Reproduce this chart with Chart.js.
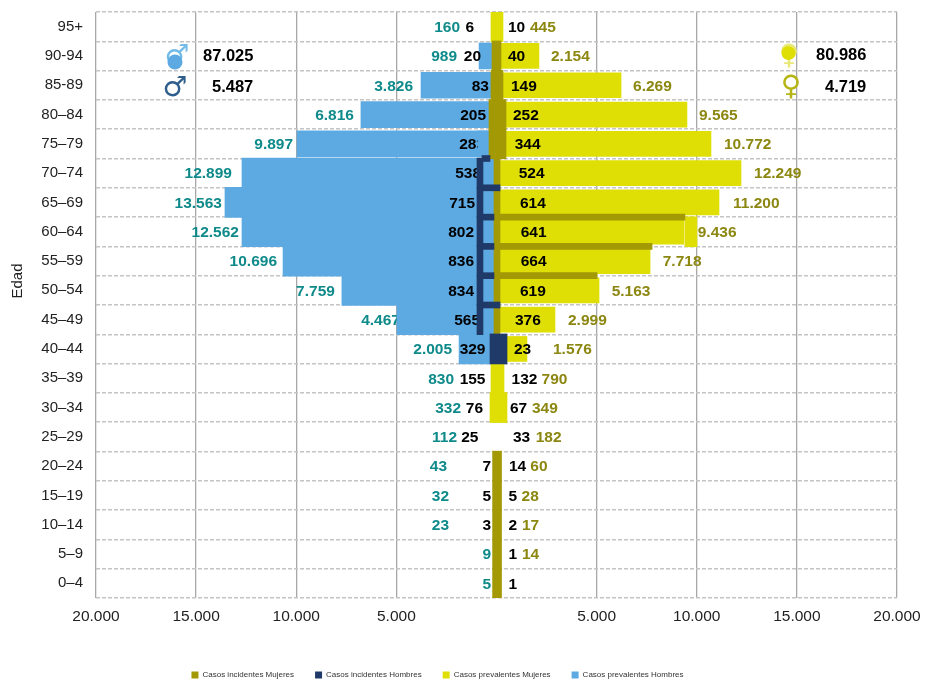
<!DOCTYPE html>
<html>
<head>
<meta charset="utf-8">
<title>Casos por edad</title>
<style>
  body { margin: 0; background: #fff; }
  canvas { display: block; }
</style>
</head>
<body>
<canvas id="myChart" width="925" height="679"></canvas>
<script src="https://cdn.jsdelivr.net/npm/chart.js"></script>
<script>
const ageGroups = ['95+','90-94','85-89','80–84','75–79','70–74','65–69','60–64','55–59','50–54','45–49','40–44','35–39','30–34','25–29','20–24','15–19','10–14','5–9','0–4']
const boundaries = ageGroups.concat(['end'])

// bar lengths (the picture does not always follow its own labels)
const prevMen = [null,870,3770,6770,9960,12710,13560,12710,10660,7720,4970,1870,null,null,null,null,null,null,null,null]
const prevWomen = [null,2120,6220,9510,10710,12210,11110,9360,7670,5120,2920,1520,null,null,null,null,null,null,null,null]
const incWomenFrom = [null,-225,-275,-375,-375,-125,-125,-125,-125,-125,-125,null,null,null,null,-195,-195,-195,-195,-195]
const incWomenTo = [null,225,325,475,475,175,175,175,175,175,175,null,null,null,null,250,250,250,250,250]
const incMenFrom = [null,null,null,null,null,-975,-975,-975,-975,-975,-975,-325,null,null,null,null,null,null,null,null]
const incMenTo = [null,null,null,null,null,-675,-675,-675,-675,-675,-675,525,null,null,null,null,null,null,null,null]

// small yellow pieces in the middle and the loose piece next to 60-64
const yellowPieceFrom = [-275,null,null,null,null,null,null,9410,null,null,null,null,-275,-325,null,null,null,null,null,null]
const yellowPieceTo = [325,null,null,null,null,null,null,10010,null,null,null,null,375,525,null,null,null,null,null,null]
const bluePieceFrom = [null,null,null,null,-925]
const bluePieceTo = [null,null,null,null,-375]

// thin bands sitting on the row boundaries
const oliveBandTo = [null,null,null,null,null,null,null,9410,7770,5020]
const navyBandFrom = [null,null,null,null,null,-725,-675,-675,-675,-675,-675]
const navyBandTo = [null,null,null,null,null,-325,175,-125,-125,-125,175]

// printed labels
const prevMenText = ['160','989','3.826','6.816','9.897','12.899','13.563','12.562','10.696','7.759','4.467','2.005','830','332','112','43','32','23','9','5']
const incMenText = ['6','20','83','205','283','538','715','802','836','834','565','329','155','76','25','7','5','3',null,null]
const incWomenText = ['10','40','149','252','344','524','614','641','664','619','376','23','132','67','33','14','5','2','1','1']
const prevWomenText = ['445','2.154','6.269','9.565','10.772','12.249','11.200','9.436','7.718','5.163','2.999','1.576','790','349','182','60','28','17','14',null]

// where the labels sit, in axis units
const prevMenTextAt = [-1820,-1970,-4170,-7120,-10160,-13210,-13710,-12860,-10960,-8070,-4820,-2220,-2120,-1770,-1970,-2470,-2370,-2370,-270,-270]
const incMenTextAt = [-1120,-770,-375,-520,-570,-770,-1070,-1120,-1120,-1120,-820,-550,-550,-670,-900,-270,-270,-270,null,null]
const incWomenTextAt = [570,570,720,820,910,1110,1170,1210,1210,1170,920,870,750,670,820,620,600,600,600,600]
const prevWomenTextAt = [1670,2720,6820,10110,11360,12860,11810,10050,8300,5750,3570,2820,2250,1770,1960,1690,1250,1270,1270,null]

const BLUE = '#5DA9E2'
const YELLOW = '#DFDF05'
const OLIVE = '#A39905'
const NAVY = '#1F3A68'
const TEAL = '#0F8A8A'
const OLIVE_TEXT = '#8C8710'
const FONT = '"Liberation Sans", Arial, sans-serif'

function span(from, to) {
  return from.map((v, i) => v === null || v === undefined ? null : [v, to[i]])
}
function fromZero(values, sign) {
  return values.map(v => v === null ? null : [0, sign * v])
}

function drawRowText(chart, texts, positions, align, color) {
  const ctx = chart.ctx
  ctx.save()
  ctx.font = 'bold 15.5px ' + FONT
  ctx.fillStyle = color
  ctx.textAlign = align
  ctx.textBaseline = 'middle'
  texts.forEach((t, i) => {
    if (t === null) return
    ctx.fillText(t, chart.scales.x.getPixelForValue(positions[i]), chart.scales.y.getPixelForValue(i) + 1)
  })
  ctx.restore()
}

const pyramidText = {
  id: 'pyramidText',
  afterLayout(chart) {
    // legend sits lower and a bit left of where the layout puts it
    chart.legend.left -= 11
    chart.legend.right -= 11
    chart.legend.top += 10
    chart.legend.bottom += 10
  },
  beforeDatasetsDraw(chart) {
    drawRowText(chart, prevMenText, prevMenTextAt, 'right', TEAL)
    drawRowText(chart, prevWomenText, prevWomenTextAt, 'left', OLIVE_TEXT)
  },
  afterDatasetDraw(chart, args) {
    // black numbers go over the big bars but under the middle pieces
    if (args.index === 2) {
      drawRowText(chart, incMenText, incMenTextAt, 'right', '#000')
      drawRowText(chart, incWomenText, incWomenTextAt, 'left', '#000')
    }
  },
  afterDraw(chart) {
    const ctx = chart.ctx
    ctx.save()
    ctx.fillStyle = '#000'
    ctx.textBaseline = 'middle'
    ctx.textAlign = 'left'
    ctx.font = 'bold 16.5px ' + FONT
    ctx.fillText('87.025', 203, 56)
    ctx.fillText('5.487', 212, 87)
    ctx.fillText('80.986', 816, 55)
    ctx.fillText('4.719', 825, 87)

    ctx.font = '15px ' + FONT
    ctx.fillStyle = '#222'
    ctx.translate(18, 281)
    ctx.rotate(-Math.PI / 2)
    ctx.textAlign = 'center'
    ctx.fillText('Edad', 0, 0)
    ctx.restore()

    ctx.save()
    ctx.textAlign = 'center'
    ctx.textBaseline = 'middle'
    ctx.font = 'bold 28px "DejaVu Sans"'
    ctx.fillStyle = '#74BCE8'
    ctx.fillText('♂', 177, 57)
    ctx.fillStyle = '#2E5E8C'
    ctx.fillText('♂', 175, 89)
    ctx.fillStyle = '#E9E97A'
    ctx.fillText('♀', 789, 57)
    ctx.fillStyle = '#B5B514'
    ctx.fillText('♀', 791, 88)
    ctx.fillStyle = BLUE
    ctx.beginPath()
    ctx.arc(175, 62, 7.5, 0, Math.PI * 2)
    ctx.fill()
    ctx.fillStyle = YELLOW
    ctx.beginPath()
    ctx.arc(788.5, 53, 7, 0, Math.PI * 2)
    ctx.fill()
    ctx.restore()
  }
}

const ctx = document.getElementById('myChart')
new Chart(ctx, {
  type: 'bar',
  data: {
    labels: ageGroups,
    datasets: [
      { label: 'Casos incidentes Mujeres', data: span(incWomenFrom, incWomenTo), backgroundColor: OLIVE, barThickness: 30, order: 20 },
      { label: 'Casos incidentes Hombres', data: span(incMenFrom, incMenTo), backgroundColor: NAVY, barThickness: 30, order: 10 },
      { label: 'Casos prevalentes Mujeres', data: fromZero(prevWomen, 1), backgroundColor: YELLOW, barThickness: 25, order: 40 },
      { label: 'Casos prevalentes Hombres', data: fromZero(prevMen.map((v, i) => i >= 5 ? v : null), -1), backgroundColor: BLUE, barThickness: 30, order: 50 },
      { label: 'upper blue', data: fromZero(prevMen.map((v, i) => i < 5 ? v : null), -1), backgroundColor: BLUE, barThickness: 26, order: 50 },
      { label: 'yellow pieces', data: span(yellowPieceFrom, yellowPieceTo), backgroundColor: YELLOW, barThickness: 30, order: 45 },
      { label: 'blue piece', data: span(bluePieceFrom, bluePieceTo), backgroundColor: BLUE, barThickness: 26, order: 30 },
      { label: 'olive bands', data: oliveBandTo.map(v => v === null ? null : [-125, v]), backgroundColor: OLIVE, barThickness: 6, yAxisID: 'y2', order: 5 },
      { label: 'navy bands', data: span(navyBandFrom, navyBandTo), backgroundColor: NAVY, barThickness: 6, yAxisID: 'y2', order: 4 }
    ]
  },
  options: {
    indexAxis: 'y',
    responsive: false,
    animation: false,
    layout: { padding: { top: 12, right: 28, left: 0, bottom: 0 } },
    datasets: { bar: { grouped: false, borderWidth: 0 } },
    plugins: {
      tooltip: { enabled: false },
      legend: {
        position: 'bottom',
        labels: {
          padding: 21,
          boxWidth: 7,
          boxHeight: 7,
          color: '#333',
          font: { family: FONT, size: 8 },
          filter: item => item.datasetIndex < 4,
          sort: (a, b) => a.datasetIndex - b.datasetIndex
        }
      }
    },
    scales: {
      x: {
        min: -20000,
        max: 20000,
        afterFit: scale => {
          scale.height = 42
          scale.paddingLeft = 0
          scale.paddingRight = 0
        },
        ticks: {
          stepSize: 5000,
          maxRotation: 0,
          padding: 9,
          color: '#222',
          font: { family: FONT, size: 15.5 },
          callback: v => v === 0 ? '' : Math.abs(v).toString().replace(/\B(?=(\d{3})+$)/, '.')
        },
        grid: {
          color: c => c.tick && c.tick.value === 0 ? 'rgba(0,0,0,0)' : '#A8A8A8',
          lineWidth: 1.3,
          drawTicks: false
        },
        border: { display: false }
      },
      y: {
        afterFit: scale => {
          scale.width = 96
          scale.paddingTop = 0
          scale.paddingBottom = 0
        },
        ticks: {
          autoSkip: false,
          padding: 13,
          color: '#222',
          font: { family: FONT, size: 15 }
        },
        grid: { color: '#C4C4C4', lineWidth: 1.5, drawTicks: false },
        border: { display: false, dash: [4, 2] }
      },
      y2: {
        type: 'category',
        labels: boundaries,
        offset: false,
        display: false,
        grid: { display: false, offset: false }
      }
    }
  },
  plugins: [pyramidText]
})
</script>
</body>
</html>
